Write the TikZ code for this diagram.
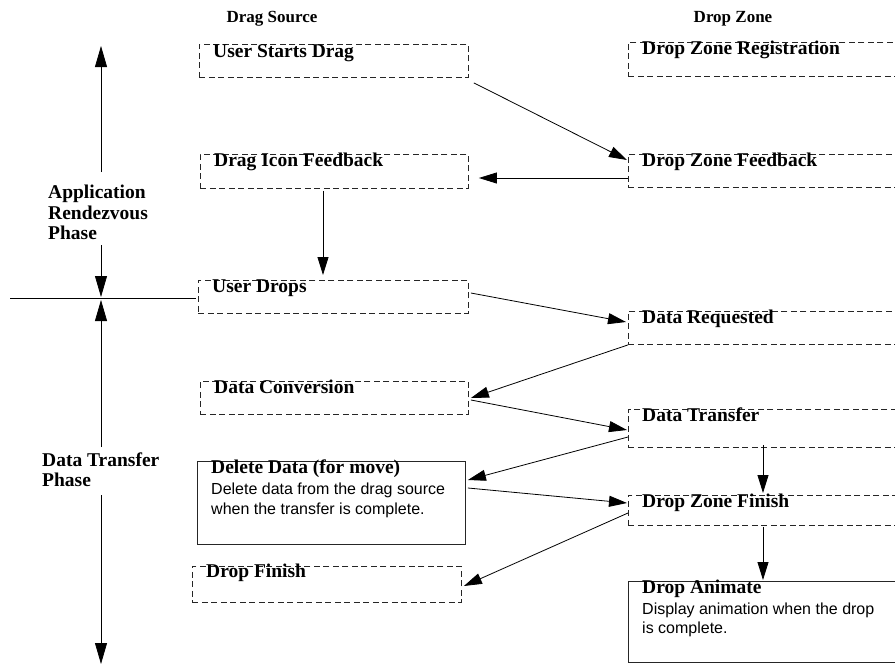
\documentclass[tikz,border=0pt]{standalone}
\usepackage{fontspec}
\setmainfont{Liberation Serif}
\setsansfont{Liberation Sans}
\usetikzlibrary{arrows.meta,calc}

\begin{document}
\begin{tikzpicture}[x=1pt,y=-1pt,
  dbox/.style={draw=black!85, dash pattern=on 6pt off 3.5pt, line width=0.9pt, rectangle, inner sep=0pt, anchor=north west},
  sbox/.style={draw=black!85, line width=0.9pt, rectangle, inner sep=0pt, anchor=north west},
  ttl/.style={font=\fontsize{19.5}{20}\selectfont\bfseries, anchor=base west, inner sep=0pt},
  body/.style={font=\sffamily\fontsize{16}{20}\selectfont, anchor=base west, inner sep=0pt},
  hdr/.style={font=\fontsize{17}{20}\selectfont\bfseries, anchor=base, inner sep=0pt},
  phase/.style={font=\fontsize{19.5}{20}\selectfont\bfseries, anchor=base west, inner sep=0pt},
  conn/.style={draw=black, line width=0.8pt, -{Triangle[length=18pt,width=11pt]}},
  axis/.style={draw=black, line width=0.8pt, -{Triangle[length=21pt,width=12pt]}},
]
\useasboundingbox (0,0) rectangle (895,664);

% headers
\node[hdr] (h1) at (272,22) {Drag Source};
\node[hdr] (h2) at (733,22) {Drop Zone};

% left column boxes
\node[dbox, minimum width=269pt, minimum height=33pt] (usd) at (199,44) {};
\node[dbox, minimum width=268pt, minimum height=34pt] (dif) at (200,154) {};
\node[dbox, minimum width=270pt, minimum height=33pt] (ud) at (198,280) {};
\node[dbox, minimum width=268pt, minimum height=33pt] (dc) at (200,381) {};
\node[sbox, minimum width=268pt, minimum height=83pt] (dd) at (197,461) {};
\node[dbox, minimum width=269pt, minimum height=36pt] (df) at (192,566) {};

% right column boxes
\node[dbox, minimum width=272pt, minimum height=34pt] (dzr) at (628,42) {};
\node[dbox, minimum width=272pt, minimum height=33pt] (dzf) at (628,154) {};
\node[dbox, minimum width=272pt, minimum height=33pt] (dr) at (628,311) {};
\node[dbox, minimum width=272pt, minimum height=38pt] (dt) at (628,409) {};
\node[dbox, minimum width=272pt, minimum height=30pt] (dzn) at (628,495) {};
\node[sbox, minimum width=272pt, minimum height=81pt] (da) at (628,581) {};

% titles
\node[ttl] (t1) at ($(usd.north west)+(14,13)$) {User Starts Drag};
\node[ttl] (t2) at ($(dif.north west)+(14,12.5)$) {Drag Icon Feedback};
\node[ttl] (t3) at ($(ud.north west)+(14,12.5)$) {User Drops};
\node[ttl] (t4) at ($(dc.north west)+(14,12.5)$) {Data Conversion};
\node[ttl] (t5) at ($(dd.north west)+(14,12.5)$) {Delete Data (for move)};
\node[body] (b5a) at ($(dd.north west)+(14,33.5)$) {Delete data from the drag source};
\node[body] (b5b) at ($(dd.north west)+(14,53.5)$) {when the transfer is complete.};
\node[ttl] (t6) at ($(df.north west)+(14,11.5)$) {Drop Finish};

\node[ttl] (t7) at ($(dzr.north west)+(14,12)$) {Drop Zone Registration};
\node[ttl] (t8) at ($(dzf.north west)+(14,12)$) {Drop Zone Feedback};
\node[ttl] (t9) at ($(dr.north west)+(14,12.5)$) {Data Requested};
\node[ttl] (t10) at ($(dt.north west)+(14,12.5)$) {Data Transfer};
\node[ttl] (t11) at ($(dzn.north west)+(14,12)$) {Drop Zone Finish};
\node[ttl] (t12) at ($(da.north west)+(14,12)$) {Drop Animate};
\node[body] (b12a) at ($(da.north west)+(14,33)$) {Display animation when the drop};
\node[body] (b12b) at ($(da.north west)+(14,52.5)$) {is complete.};

% connectors
\draw[conn] ($(usd.south east)+(5,5)$) -- ($(dzf.north west)+(-1,6)$);
\draw[conn] ($(dzf.north west)+(0,24)$) -- ($(dif.north east)+(10,24)$);
\draw[conn] ($(dif.south west)+(123,2)$) -- ($(ud.north west)+(125,-5)$);
\draw[conn] ($(ud.north east)+(2,13)$) -- ($(dr.north west)+(-2,11)$);
\draw[conn] (dr.south west) -- ($(dc.north east)+(2,17)$);
\draw[conn] ($(dc.north east)+(2,19)$) -- ($(dt.north west)+(-1,21)$);
\draw[conn] ($(dt.north west)+(0,28)$) -- ($(dd.north east)+(2,19)$);
\draw[conn] ($(dd.north east)+(2,27)$) -- ($(dzn.north west)+(-1,8)$);
\draw[conn] ($(dt.south west)+(135,-3)$) -- ($(dzn.north west)+(135,-2)$);
\draw[conn] ($(dzn.north west)+(0,18)$) -- ($(df.north east)+(2,20)$);
\draw[conn] ($(dzn.south west)+(135,1)$) -- ($(da.north west)+(135,-1)$);

% phase axis
\coordinate (axtop) at (101,46);
\coordinate (a1) at (101,172);
\coordinate (a2) at (101,245);
\coordinate (am1) at (101,297);
\coordinate (am2) at (101,300);
\coordinate (a3) at (101,447);
\coordinate (a4) at (101,495);
\coordinate (axbot) at (101,664);
\coordinate (hl) at (10,298);
\coordinate (hr) at (196,298);
\draw[axis] (a1) -- (axtop);
\draw[axis] (a2) -- (am1);
\draw[axis] (a3) -- (am2);
\draw[axis] (a4) -- (axbot);
\draw[line width=0.9pt] (hl) -- (hr);

\node[phase] (p1) at (48,198) {Application};
\node[phase] (p2) at (48,219) {Rendezvous};
\node[phase] (p3) at (48,239) {Phase};
\node[phase] (p4) at (42,466) {Data Transfer};
\node[phase] (p5) at (42,486) {Phase};
\end{tikzpicture}
\end{document}
